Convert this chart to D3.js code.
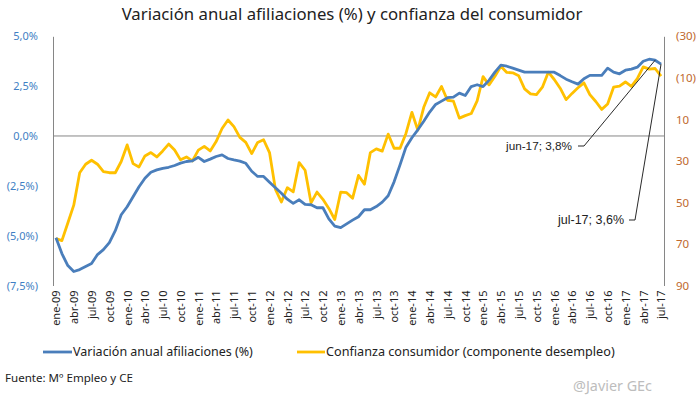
<!DOCTYPE html>
<html><head><meta charset="utf-8">
<script src="https://cdn.jsdelivr.net/npm/d3@7/dist/d3.min.js"></script>
<style>body{margin:0;background:#fff}svg{display:block}text{font-family:"Noto Sans",sans-serif}</style>
</head><body>
<svg id="c" width="699" height="398"></svg>
<script>
const monthNames = ["ene","feb","mar","abr","may","jun","jul","ago","sep","oct","nov","dic"];
const years = ["09","10","11","12","13","14","15","16","17"];
const lastMonthIndex = 6; // jul-17
const categories = [];
years.forEach((y, yi) => monthNames.forEach((m, mi) => {
  if (yi < years.length - 1 || mi <= lastMonthIndex) categories.push(m + "-" + y);
}));

const afiliaciones = [
 -5.1,-5.9,-6.5,-6.8,-6.7,-6.55,-6.4,-5.95,-5.7,-5.35,-4.75,-3.95,
 -3.55,-3.05,-2.55,-2.12,-1.82,-1.7,-1.62,-1.57,-1.48,-1.36,-1.28,-1.25,
 -1.07,-1.28,-1.16,-1.03,-0.95,-1.13,-1.2,-1.26,-1.37,-1.77,-2.03,-2.03,
 -2.32,-2.6,-2.87,-3.17,-3.38,-3.2,-3.43,-3.45,-3.6,-3.6,-4.16,-4.52,
 -4.6,-4.41,-4.22,-4.05,-3.7,-3.7,-3.54,-3.32,-3.0,-2.3,-1.45,-0.56,
 -0.09,0.31,0.74,1.2,1.58,1.75,1.92,1.95,2.15,2.03,2.48,2.57,
 2.48,2.79,3.2,3.55,3.5,3.4,3.3,3.2,3.2,3.2,3.2,3.2,
 3.2,3.03,2.85,2.72,2.6,2.87,3.04,3.04,3.04,3.4,3.2,3.12,
 3.3,3.35,3.45,3.75,3.85,3.8,3.6
];
const confianza = [
 67.4,68.4,59.9,51.3,35.7,31.6,29.7,31.6,35.2,35.7,35.7,30.3,
 22.3,31.3,32.9,27.6,26.0,28.1,25.2,21.9,24.8,29.5,28.1,30.0,
 24.8,23.0,25.2,20.7,14.4,10.3,13.5,18.7,21.1,26.5,21.1,19.8,
 26.0,43.7,49.8,42.9,44.9,30.8,34.5,50.2,45.0,48.5,52.9,58.2,
 45.0,45.3,48.0,37.0,41.2,26.0,24.2,25.3,17.1,23.9,23.9,16.8,
 6.6,15.2,4.2,-2.8,-0.8,-5.8,0.8,1.2,9.4,8.2,7.2,1.1,
 -10.6,-6.6,-10.8,-15.6,-12.6,-12.4,-11.0,-4.7,-2.3,-1.9,-5.5,-12.7,
 -9.2,-5.0,0.5,-2.5,-5.2,-7.6,-1.9,1.4,5.2,2.6,-5.5,-6.0,
 -8.0,-5.9,-9.6,-15.3,-14.2,-14.5,-10.8
];
const leftTicks = [5, 2.5, 0, -2.5, -5, -7.5];
const rightTicks = [-30, -10, 10, 30, 50, 70, 90];
const xTickLabels = categories.filter((c, i) => i % 3 === 0);
const annotations = [
  {cat: "jun-17", label: "jun-17; 3,8%"},
  {cat: "jul-17", label: "jul-17; 3,6%"}
];
const seriesNames = ["Variación anual afiliaciones (%)", "Confianza consumidor (componente desempleo)"];

const svg = d3.select("#c");
const L = 53, R = 664, T = 36.3, B = 285.5;
const x = d3.scalePoint().domain(categories).range([L, R]).padding(0.5);
const yL = d3.scaleLinear().domain([-7.5, 5]).range([B, T]);
const yR = d3.scaleLinear().domain([90, -30]).range([B, T]);
const blue = "#4A7EBB", yellow = "#FFC000";

function fit(sel, w) {
  const n = sel.node(); const cur = n.getComputedTextLength();
  const fs = parseFloat(sel.attr("font-size"));
  sel.attr("font-size", (fs * w / cur).toFixed(2));
}

// title
const title = svg.append("text").attr("x", 352).attr("y", 20).attr("text-anchor", "middle")
  .attr("font-size", 16).attr("fill", "#222")
  .text("Variación anual afiliaciones  (%) y confianza del consumidor");
fit(title, 461);

// axes
const fmtL = v => { const s = Math.abs(v).toFixed(1).replace(".", ",") + "%"; return v < 0 ? "(" + s + ")" : s; };
const fmtR = v => v < 0 ? "(" + Math.abs(v) + ")" : String(v);

const axL = svg.append("g").attr("transform", `translate(${L},0)`)
  .call(d3.axisLeft(yL).tickValues(leftTicks).tickSize(0).tickPadding(15).tickFormat(fmtL));
axL.select(".domain").attr("stroke", "#868686");
axL.selectAll("text").attr("fill", "#3F7FC4").attr("font-size", 11).style("font-family", "Noto Sans");

const axR = svg.append("g").attr("transform", `translate(${R},0)`)
  .call(d3.axisRight(yR).tickValues(rightTicks).tickSize(0).tickPadding(12).tickFormat(fmtR));
axR.select(".domain").attr("stroke", "#868686");
axR.selectAll("text").attr("fill", "#C0692E").attr("font-size", 11.5).style("font-family", "Noto Sans");

// zero category line
svg.append("line").attr("x1", L).attr("x2", R).attr("y1", yL(0)).attr("y2", yL(0))
  .attr("stroke", "#868686").attr("stroke-width", 1);

// x labels
const axX = svg.append("g").attr("transform", `translate(0,${B + 5})`)
  .call(d3.axisBottom(x).tickValues(xTickLabels).tickSize(0).tickPadding(0));
axX.select(".domain").remove();
axX.selectAll("text").attr("font-size", 11).attr("fill", "#222")
  .attr("text-anchor", "end").attr("dy", "0.35em").attr("y", 0)
  .attr("transform", "rotate(-90)").attr("x", 0);

// lines
const lineL = d3.line().x((d, i) => x(categories[i])).y(d => yL(d));
const lineR = d3.line().x((d, i) => x(categories[i])).y(d => yR(d));
svg.append("path").datum(confianza).attr("d", lineR).attr("fill", "none")
  .attr("stroke", yellow).attr("stroke-width", 2.8).attr("stroke-linejoin", "round");
svg.append("path").datum(afiliaciones).attr("d", lineL).attr("fill", "none")
  .attr("stroke", blue).attr("stroke-width", 2.8).attr("stroke-linejoin", "round");

// annotations
const annPos = [{tx: 572, ty: 146, hx: 578, hx2: 584}, {tx: 624, ty: 220, hx: 629, hx2: 635}];
annotations.forEach((a, k) => {
  const i = categories.indexOf(a.cat);
  const px = x(a.cat), py = yL(afiliaciones[i]);
  const p = annPos[k];
  svg.append("polyline").attr("points", `${p.hx},${p.ty} ${p.hx2},${p.ty} ${px},${py}`)
    .attr("fill", "none").attr("stroke", "#111").attr("stroke-width", 0.9);
  const t = svg.append("text").attr("x", p.tx).attr("y", p.ty).attr("dy", "0.35em")
    .attr("text-anchor", "end").attr("font-size", 11.5).attr("fill", "#222")
    .style("font-family", "Liberation Sans").text(a.label);
  fit(t, 66);
});

// legend
const legY = 352;
[[43, 72, blue, 73, 180], [297, 325, yellow, 326, 289]].forEach(([x1, x2, c, tx, w], k) => {
  svg.append("line").attr("x1", x1).attr("x2", x2).attr("y1", legY).attr("y2", legY)
    .attr("stroke", c).attr("stroke-width", 2.8);
  const t = svg.append("text").attr("x", tx).attr("y", legY).attr("dy", "0.35em")
    .attr("font-size", 12).attr("fill", "#222").text(seriesNames[k]);
  fit(t, w);
});

// source and credit
const src = svg.append("text").attr("x", 5).attr("y", 378).attr("dy", "0.35em")
  .attr("font-size", 10.5).attr("fill", "#222").text("Fuente: Mº Empleo y CE");
fit(src, 128);
const cr = svg.append("text").attr("x", 573).attr("y", 386).attr("dy", "0.35em")
  .attr("font-size", 12).attr("fill", "#BDBDBD").text("@Javier GEc");
fit(cr, 79);
</script>
</body></html>
